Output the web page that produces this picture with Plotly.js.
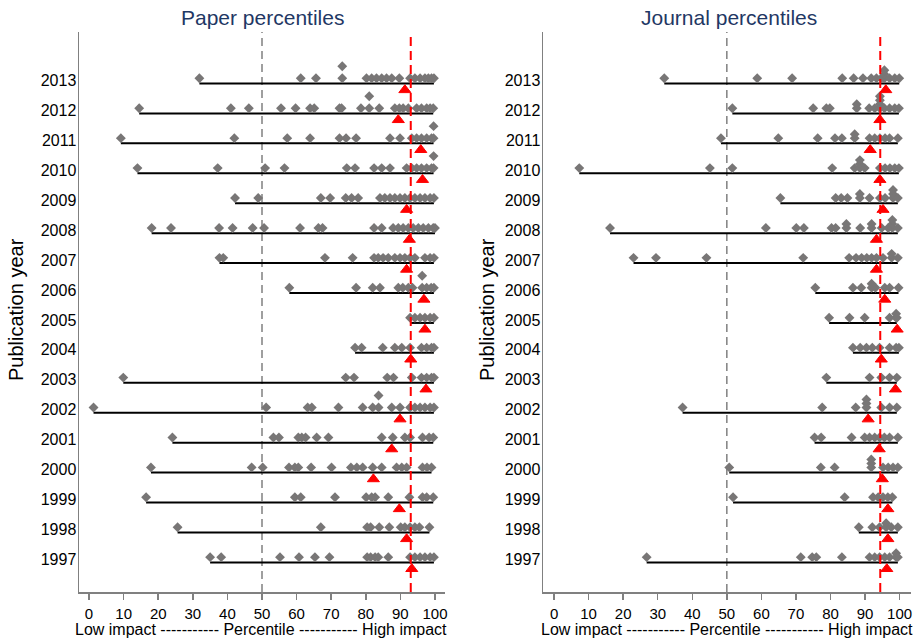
<!DOCTYPE html>
<html><head><meta charset="utf-8">
<script src="https://cdn.plot.ly/plotly-3.0.1.min.js"></script>
<style>html,body{margin:0;padding:0;background:#fff;} #chart{width:922px;height:639px;}</style>
</head><body><div id="chart"></div>
<script>
const years = [1997,1998,1999,2000,2001,2002,2003,2004,2005,2006,2007,2008,2009,2010,2011,2012,2013];
const xTicks = [0,10,20,30,40,50,60,70,80,90,100];

// Paper percentiles: dots per year (1997 -> 2013); repeated values are stacked
const paperDots = [
  [35,38.2,55.2,60.7,65.3,69.5,80.4,81.4,82.7,83.6,86.5,92.8,94.2,95.7,97.1,98.6,99.7],
  [25.6,67,80.4,81.4,83.9,86.8,90.1,91.3,92.8,94.2,95.5,98.4],
  [16.5,59.5,61.2,71.1,80.1,81.7,82.7,86.5,92.6,96.4,97.6,99.5],
  [17.9,47,50.2,57.8,59.5,60.5,64.2,70.1,75.7,77.4,79.1,82,84.6,88.9,90.4,91.8,96.4,97.7,99],
  [24.1,53.3,54.9,60.5,61.5,62.6,65.8,69.2,84.6,87.8,91.3,92.8,96.4,98.3,99.5],
  [1.3,51.2,63.2,64.4,72.1,79.1,82,83.7,83.7,87.5,89.9,92.8,94.2,95.7,97.1,98.6,99.7],
  [9.9,74.2,76.6,86.2,88,93.3,96.1,97.6,99,99.7],
  [76.9,78.8,84.9,88.4,90.4,92.8,96.1,97.6,99,99.7],
  [92.8,94.2,95.7,97.1,98.6,99.7],
  [57.9,77.2,82,84.1,89.4,90.7,92.3,93.5,96.3,96.3,97.6,98.9,99.7],
  [37.7,38.8,68.2,76.2,82.4,83.6,85,86.5,88.4,89.9,91.3,92.8,94.2,97.1,98.6,99.7],
  [18.1,23.7,37.6,41.5,47.3,50.6,61,66.3,67.5,82.4,84.6,87.9,89.4,90.8,92.3,93.7,95.2,96.6,98.1,99.5,100],
  [42.2,48.9,67,69.7,74.2,75.9,77.8,84.1,85.5,87,88.4,89.9,91.3,92.8,94.2,95.7,97.1,98.6,99.7],
  [14,37.2,50.9,56.5,74.5,76.9,82.4,84.6,87,91.8,93.3,94.7,96.1,97.6,99,99.6,99.6],
  [9.2,42,57.3,63.9,72.4,74.3,77.2,87,89.9,93.3,94.7,96.1,97.6,99,99.6,99.6],
  [14.5,41,46.2,55.5,59.7,63.9,65.1,72.4,73,78.6,81,81,83.9,88.4,89.7,90.8,92.3,94.7,96.1,97.6,98.6,99.5],
  [31.9,61.2,65.6,73.2,73.2,80.2,81.7,83.1,84.6,86,87.5,89.7,92.8,94.2,95.7,97.1,98.1,99,99.7]
];
const paperMedian = [93.3,91.8,89.7,82.2,87.5,89.9,97.4,93,97.1,96.8,91.8,92.6,91.8,96.4,95.9,89.4,91.3];

// Journal percentiles: dots per year (1997 -> 2013)
const journalDots = [
  [26.8,71.4,74.7,75.9,83.3,91.3,92.8,94.2,95.7,97.1,99,99,99.5],
  [88.2,92.1,94.2,96.1,96.1,97.6,99.5],
  [51.8,84.1,92.3,93.8,95.2,96.6,97.9],
  [50.7,77.2,81.2,91.8,91.8,91.8,95.2,96.7,98.1,99.5],
  [75.4,77.3,86.1,89.9,91.3,92.8,94.2,95.6,97.1,99.5],
  [37.2,77.6,87.3,90.4,90.4,90.4,94.7,97.1,99.2],
  [78.8,91.3,94.7,97.1,99.2],
  [86.5,88.6,90.4,92.1,94.2,97.1,99,99.8],
  [79.6,85.5,89.9,97.1,99,99,99.2],
  [75.6,86.5,88.9,91.9,91.9,93,95.7,97.1,99.7],
  [23,29.5,44.1,72.1,85.4,87.4,89,90.5,91.9,93.3,95.2,97.7,97.7,99.5],
  [16.2,61.3,70.1,72.3,80.3,81.5,84.6,84.6,88.6,91.9,91.9,94.8,96.7,97.9,97.9,97.9,99.5],
  [65.5,81.5,83.1,84.9,88.5,88.5,91.3,94.3,95.8,98.1,98.1,98.1,99.5],
  [7.3,45.1,51.6,80.5,87,88.5,88.5,88.5,89.9,94.3,95.8,97.2,98.6,99.8],
  [48.3,64.9,76.3,81.3,83.3,87,87,91.3,92.8,94.3,95.8,97.1,99.5],
  [51.6,75,78.8,79.8,87.6,87.6,91.2,92.8,94.3,94.3,94.3,94.3,95.6,97.1,98.6,99.8],
  [31.9,58.8,68.9,83.4,86.7,89.4,91.8,93.3,94.7,95.6,95.6,95.6,97.1,98.6,99.9]
];
const journalMedian = [96.3,96.6,96.6,95,94.1,90.9,98.8,94.7,99.3,95.7,93.3,93.3,95.2,94.3,91.5,94.3,96];

const midRef = 50;
const paperRef = 93;
const journalRef = 94.4;

const FONT = 'Liberation Sans, Arial, sans-serif';
const W = 922, H = 639;
const TOP = 32, BOT = 592;
const YMIN = 1995.91, YMAX = 2014.62;
const PX = (BOT - TOP) / (YMAX - YMIN);

function buildPanel(dots, med, xa, ya, stackPx) {
  const lx = [], ly = [], dx = [], dy = [], tx = [], ty = [];
  years.forEach((yr, i) => {
    const row = dots[i];
    lx.push(Math.min(...row), Math.max(...row), null);
    ly.push(yr - 3 / PX, yr - 3 / PX, null);
    const seen = {};
    row.forEach(v => {
      const k = seen[v] || 0; seen[v] = k + 1;
      dx.push(v); dy.push(yr + (2.2 + k * stackPx) / PX);
    });
    tx.push(med[i]); ty.push(yr - 9.5 / PX);
  });
  return [
    {x: lx, y: ly, xaxis: xa, yaxis: ya, mode: 'lines', line: {color: '#000', width: 2}, hoverinfo: 'skip', showlegend: false},
    {x: dx, y: dy, xaxis: xa, yaxis: ya, mode: 'markers', marker: {symbol: 'diamond', size: 7.6, color: '#787676'}, showlegend: false},
    {x: tx, y: ty, xaxis: xa, yaxis: ya, mode: 'markers', marker: {symbol: 'triangle-up', size: 10.5, color: '#ff0000', line: {color: '#ff0000', width: 1}}, showlegend: false}
  ];
}

const data = [
  ...buildPanel(paperDots, paperMedian, 'x', 'y', 12),
  ...buildPanel(journalDots, journalMedian, 'x2', 'y2', 4)
];

const xBase = {
  tickvals: xTicks, ticks: 'outside', ticklen: 6, tickwidth: 1.5, tickcolor: '#808080',
  showline: true, linecolor: '#808080', linewidth: 1.5, showgrid: false, zeroline: false,
  tickfont: {family: FONT, size: 15, color: '#000'}, fixedrange: true, ticklabelstandoff: 1
};
const yBase = {
  domain: [(H - BOT) / H, (H - TOP) / H], range: [YMIN, YMAX],
  tickvals: years, ticktext: years.map(String), ticks: '', showline: true, linecolor: '#808080', linewidth: 1.5,
  showgrid: false, zeroline: false, tickfont: {family: FONT, size: 16, color: '#000'}, fixedrange: true,
  ticklabelstandoff: -2
};

function vline(xref, yref, x, color, width, dash, layer) {
  return {type: 'line', xref: xref, yref: yref + ' domain', x0: x, x1: x, y0: 0, y1: 1,
    line: {color: color, width: width, dash: dash}, layer: layer};
}

const titleFont = {family: FONT, size: 21, color: '#1f3864'};
const axFont = {family: FONT, size: 20, color: '#000'};
const subFont = {family: FONT, size: 16, color: '#000'};
const subText = 'Low impact ----------- Percentile ----------- High impact';

const layout = {
  width: W, height: H, margin: {l: 0, r: 0, t: 0, b: 0},
  paper_bgcolor: '#fff', plot_bgcolor: '#fff', showlegend: false,
  xaxis: Object.assign({}, xBase, {domain: [79 / W, 445 / W], range: [-2.9, 102.9], anchor: 'y'}),
  yaxis: Object.assign({}, yBase, {anchor: 'x'}),
  xaxis2: Object.assign({}, xBase, {domain: [543 / W, 911 / W], range: [-3.2, 103.3], anchor: 'y2'}),
  yaxis2: Object.assign({}, yBase, {anchor: 'x2'}),
  shapes: [
    vline('x', 'y', midRef, '#808080', 1.5, '8px,5px', 'below'),
    vline('x', 'y', paperRef, '#ff0000', 2, '9px,5px', 'above'),
    vline('x2', 'y2', midRef, '#808080', 1.5, '8px,5px', 'below'),
    vline('x2', 'y2', journalRef, '#ff0000', 2, '9px,5px', 'above')
  ],
  annotations: [
    {text: 'Paper percentiles', xref: 'paper', yref: 'paper', x: 262 / W, y: (H - 18) / H, xanchor: 'center', yanchor: 'middle', showarrow: false, font: titleFont},
    {text: 'Journal percentiles', xref: 'paper', yref: 'paper', x: 729 / W, y: (H - 18) / H, xanchor: 'center', yanchor: 'middle', showarrow: false, font: titleFont},
    {text: 'Publication year', xref: 'paper', yref: 'paper', x: 16 / W, y: (H - 310) / H, xanchor: 'center', yanchor: 'middle', textangle: -90, showarrow: false, font: axFont},
    {text: 'Publication year', xref: 'paper', yref: 'paper', x: 487 / W, y: (H - 310) / H, xanchor: 'center', yanchor: 'middle', textangle: -90, showarrow: false, font: axFont},
    {text: subText, xref: 'paper', yref: 'paper', x: 261 / W, y: 0, xanchor: 'center', yanchor: 'bottom', showarrow: false, font: subFont, borderpad: 0},
    {text: subText, xref: 'paper', yref: 'paper', x: 727 / W, y: 0, xanchor: 'center', yanchor: 'bottom', showarrow: false, font: subFont, borderpad: 0}
  ]
};

Plotly.newPlot('chart', data, layout, {staticPlot: true, displayModeBar: false});
</script>
</body></html>
